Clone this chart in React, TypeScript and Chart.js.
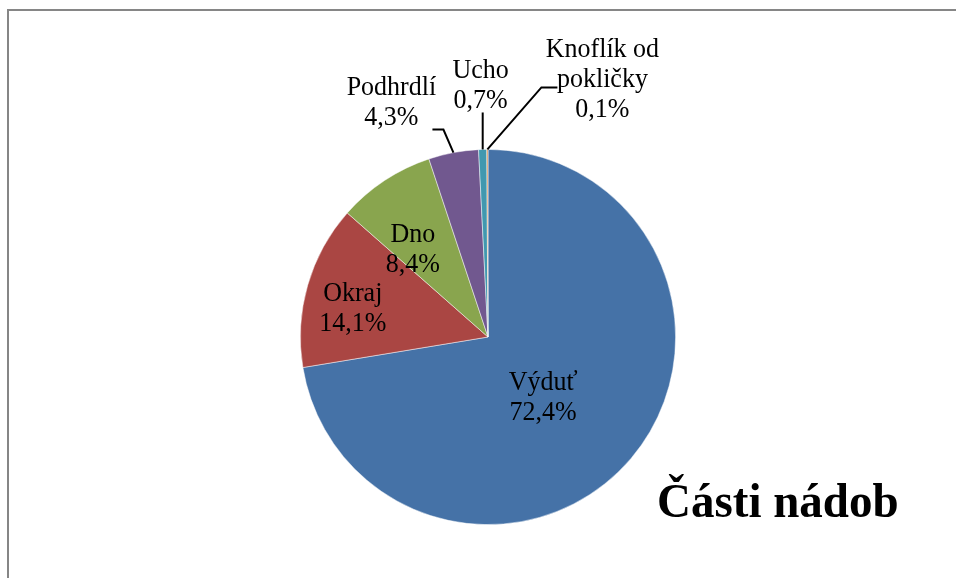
import React, { useEffect, useRef } from "react";
import { Chart, registerables } from "chart.js";

Chart.register(...registerables);

const categories = ["Výduť", "Okraj", "Dno", "Podhrdlí", "Ucho", "Knoflík od\npokličky"];
const values = [72.4, 14.1, 8.4, 4.3, 0.7, 0.1];
const colors = ["#4572A7", "#AA4643", "#89A54E", "#71588F", "#4198AF", "#DB843D"];
const chartTitle = "Části nádob";

// label placement styles (relative to slice geometry)
type Place =
  | { mode: "inside"; ratio: number; dx: number; dy: number }
  | { mode: "outside"; lx: number; ly: number; path: [number, number][] };
const placements: Place[] = [
  { mode: "inside", ratio: 0.42, dx: -5, dy: 10 },
  { mode: "inside", ratio: 0.7, dx: -9, dy: 8 },
  { mode: "inside", ratio: 0.6, dx: -13, dy: 7 },
  { mode: "outside", lx: -62, ly: -50, path: [[-10, -23], [-21, -23]] },
  { mode: "outside", lx: -2, ly: -64, path: [[0, -37]] },
  { mode: "outside", lx: 115, ly: -70, path: [[54, -62], [70, -62]] },
];

const FONT = "26px 'Liberation Serif', 'Times New Roman', serif";
const LINE_H = 30;
const V_STRETCH = 1.06;

const labelPlugin = {
  id: "sliceLabels",
  afterDatasetsDraw(chart: any) {
    const ctx = chart.ctx as CanvasRenderingContext2D;
    const meta = chart.getDatasetMeta(0);
    ctx.save();
    ctx.font = FONT;
    ctx.fillStyle = "#000";
    ctx.textAlign = "center";
    ctx.textBaseline = "middle";
    const drawText = (t: string, x: number, y: number) => {
      ctx.save();
      ctx.translate(x, y);
      ctx.scale(1, V_STRETCH);
      ctx.fillText(t, 0, 0);
      ctx.restore();
    };
    meta.data.forEach((arc: any, i: number) => {
      const p = arc.getProps(["x", "y", "startAngle", "endAngle", "outerRadius"], true);
      const mid = (p.startAngle + p.endAngle) / 2;
      const pl = placements[i];
      const lines = [...categories[i].split("\n"), values[i].toFixed(1).replace(".", ",") + "%"];
      let cx: number, cy: number;
      if (pl.mode === "inside") {
        cx = p.x + Math.cos(mid) * p.outerRadius * pl.ratio + pl.dx;
        cy = p.y + Math.sin(mid) * p.outerRadius * pl.ratio + pl.dy;
      } else {
        const ex = p.x + Math.cos(mid) * p.outerRadius;
        const ey = p.y + Math.sin(mid) * p.outerRadius;
        ctx.beginPath();
        ctx.strokeStyle = "#000";
        ctx.lineWidth = 2;
        ctx.moveTo(ex, ey);
        pl.path.forEach(([dx, dy]) => ctx.lineTo(ex + dx, ey + dy));
        ctx.stroke();
        cx = ex + pl.lx;
        cy = ey + pl.ly;
      }
      lines.forEach((t, k) => {
        drawText(t, cx, cy + (k - (lines.length - 1) / 2) * LINE_H);
      });
    });
    // title
    ctx.font = "bold 47px 'Liberation Serif', 'Times New Roman', serif";
    ctx.textAlign = "left";
    ctx.textBaseline = "alphabetic";
    ctx.save();
    ctx.translate(657, 517);
    ctx.scale(1, 1.03);
    ctx.fillText(chartTitle, 0, 0);
    ctx.restore();
    ctx.restore();
  },
};

export default function App() {
  const ref = useRef<HTMLCanvasElement | null>(null);
  useEffect(() => {
    if (!ref.current) return;
    const chart = new Chart(ref.current, {
      type: "pie",
      data: {
        labels: categories,
        datasets: [
          {
            data: values,
            backgroundColor: colors,
            borderColor: "rgba(255,255,255,0.6)",
            borderWidth: 0.8,
          },
        ],
      },
      options: {
        animation: false,
        responsive: false,
        devicePixelRatio: 1,
        layout: { padding: { left: 300, right: 280, top: 149, bottom: 53 } },
        plugins: { legend: { display: false }, tooltip: { enabled: false }, title: { display: false } },
      },
      plugins: [labelPlugin],
    });
    return () => chart.destroy();
  }, []);
  return (
    <div style={{ position: "absolute", left: 0, top: 0, width: 956, height: 578, overflow: "hidden", background: "#fff" }}>
      <div
        style={{
          position: "absolute",
          left: 7,
          top: 9,
          width: 1000,
          height: 1000,
          border: "2px solid #868686",
        }}
      />
      <canvas ref={ref} width={956} height={578} style={{ position: "absolute", left: 0, top: 0 }} />
    </div>
  );
}
